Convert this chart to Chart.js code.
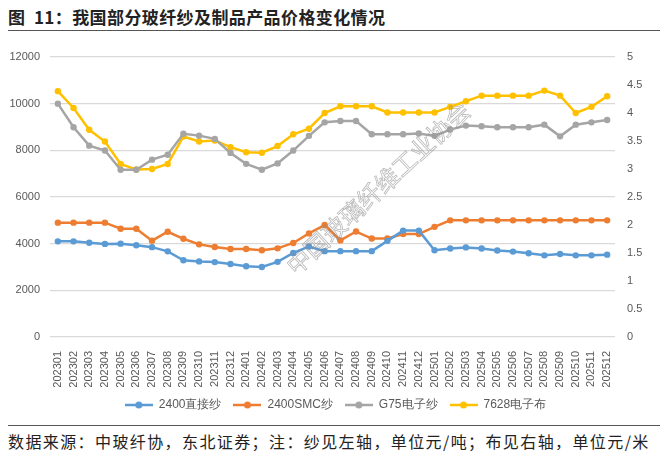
<!DOCTYPE html>
<html>
<head>
<meta charset="utf-8">
<script src="https://cdn.jsdelivr.net/npm/chart.js@4"></script>
<style>
  html, body { margin: 0; padding: 0; background: #fff; }
  body { width: 671px; height: 455px; position: relative; overflow: hidden; }
  #title {
    position: absolute; left: 8px; top: 4px; letter-spacing: 0.4px; white-space: nowrap;
    font: bold 17px "Noto Sans CJK SC", sans-serif; color: #222;
  }
  #rule1 { position: absolute; left: 8px; top: 30px; width: 652px; height: 0; border-top: 1.5px solid #555; }
  #rule2 { position: absolute; left: 8px; top: 425px; width: 652px; height: 0; border-top: 1.5px solid #555; }
  #source {
    position: absolute; left: 8px; top: 429px; letter-spacing: 1.4px;
    font: 16px "Noto Sans CJK SC", sans-serif; color: #222; white-space: nowrap;
  }
  #wrap { position: absolute; left: 0; top: 0; width: 671px; height: 425px; }
</style>
</head>
<body>
<div id="title">图&nbsp;&nbsp;11：我国部分玻纤纱及制品产品价格变化情况</div>
<div id="rule1"></div>
<div id="wrap"><canvas id="price-chart"></canvas></div>
<div id="rule2"></div>
<div id="source">数据来源：中玻纤协，东北证券；注：纱见左轴，单位元/吨；布见右轴，单位元/米</div>
<script>
'use strict';

const months = [
    '202301', '202302', '202303', '202304', '202305', '202306', '202307', '202308', '202309', '202310', '202311', '202312',
    '202401', '202402', '202403', '202404', '202405', '202406', '202407', '202408', '202409', '202410', '202411', '202412',
    '202501', '202502', '202503', '202504', '202505', '202506', '202507', '202508', '202509', '202510', '202511', '202512'
];
// yarn prices, yuan/ton (left axis)
const direct2400 = [4100, 4100, 4040, 3990, 4000, 3930, 3850, 3670, 3290, 3240, 3210, 3130,
    3030, 3000, 3220, 3600, 3880, 3680, 3680, 3680, 3680, 4120, 4560, 4560,
    3720, 3790, 3840, 3790, 3710, 3660, 3590, 3500, 3560, 3500, 3500, 3530];
const smc2400 = [4900, 4900, 4900, 4900, 4640, 4640, 4130, 4510, 4210, 3970, 3860, 3770,
    3770, 3720, 3800, 4030, 4440, 4800, 4140, 4520, 4220, 4220, 4410, 4410,
    4720, 5000, 5000, 5000, 5000, 5000, 5000, 5000, 5000, 5000, 5000, 5000];
const g75 = [10000, 8990, 8200, 7990, 7170, 7170, 7600, 7810, 8710, 8630, 8490, 7890,
    7420, 7170, 7440, 7990, 8620, 9200, 9260, 9260, 8690, 8690, 8690, 8720,
    8620, 8890, 9060, 9030, 8990, 8990, 8990, 9100, 8600, 9100, 9200, 9300];
// cloth price, yuan/meter (right axis)
const cloth7628 = [4.39, 4.09, 3.70, 3.49, 3.09, 2.99, 3.00, 3.09, 3.58, 3.49, 3.51, 3.39,
    3.30, 3.29, 3.41, 3.62, 3.72, 4.00, 4.12, 4.12, 4.12, 4.01, 4.01, 4.01,
    4.01, 4.11, 4.21, 4.31, 4.31, 4.31, 4.31, 4.40, 4.31, 4.00, 4.11, 4.30];
const leftTicks = [0, 2000, 4000, 6000, 8000, 10000, 12000];
const rightTicks = [0, 0.5, 1, 1.5, 2, 2.5, 3, 3.5, 4, 4.5, 5];

const seriesNames = ['2400直接纱', '2400SMC纱', 'G75电子纱', '7628电子布'];
const seriesColors = ['#5B9BD5', '#ED7D31', '#A5A5A5', '#FFC000'];

const tickColor = '#595959';
const tickFont = {family: '"Liberation Sans", sans-serif', size: 11};

function legendMarker(color) {
    const c = document.createElement('canvas');
    c.width = 28;
    c.height = 10;
    const g = c.getContext('2d');
    g.strokeStyle = color;
    g.lineWidth = 2.5;
    g.beginPath();
    g.moveTo(0, 5);
    g.lineTo(28, 5);
    g.stroke();
    g.fillStyle = color;
    g.beginPath();
    g.arc(14, 5, 3.5, 0, Math.PI * 2);
    g.fill();
    return c;
}

function makeSet(i, data, axis) {
    return {
        label: seriesNames[i],
        data: data,
        yAxisID: axis,
        borderColor: seriesColors[i],
        backgroundColor: seriesColors[i],
        borderWidth: 2.5,
        pointRadius: 3.2,
        pointHoverRadius: 3.2,
        pointBorderWidth: 0,
        tension: 0
    };
}

const watermark = {
    id: 'watermark',
    afterDatasetsDraw: (chart) => {
        const g = chart.ctx;
        g.save();
        g.translate(378, 188);
        g.rotate(-Math.PI / 4.2);
        g.font = '24px "Noto Sans CJK SC", sans-serif';
        g.textAlign = 'center';
        g.textBaseline = 'middle';
        g.strokeStyle = 'rgba(140,140,140,0.6)';
        g.lineWidth = 0.8;
        g.strokeText('中国玻璃纤维工业协会', 0, 0);
        g.restore();
    }
};

const ctx = document.getElementById('price-chart');
new Chart(ctx, {
    type: 'line',
    data: {
        labels: months,
        datasets: [
            makeSet(0, direct2400, 'y'),
            makeSet(1, smc2400, 'y'),
            makeSet(2, g75, 'y'),
            makeSet(3, cloth7628, 'y1')
        ]
    },
    options: {
        responsive: true,
        maintainAspectRatio: false,
        animation: false,
        layout: {padding: {top: 57, bottom: 4}},
        plugins: {
            tooltip: {enabled: false},
            legend: {
                position: 'bottom',
                labels: {
                    color: tickColor,
                    font: {family: '"Liberation Sans", sans-serif', size: 12},
                    usePointStyle: true,
                    pointStyleWidth: 28,
                    boxHeight: 10,
                    padding: 12,
                    generateLabels: (chart) => chart.data.datasets.map((ds, i) => ({
                        text: ds.label,
                        fontColor: tickColor,
                        pointStyle: legendMarker(seriesColors[i]),
                        datasetIndex: i,
                        lineWidth: 0
                    }))
                }
            }
        },
        scales: {
            x: {
                offset: true,
                grid: {display: false},
                border: {display: false},
                ticks: {
                    color: tickColor,
                    font: tickFont,
                    minRotation: 90,
                    maxRotation: 90,
                    autoSkip: false,
                    padding: 6
                },
                afterFit: (s) => { s.height = 50; }
            },
            y: {
                position: 'left',
                min: 0,
                max: 12000,
                afterBuildTicks: (s) => { s.ticks = leftTicks.map(v => ({value: v})); },
                grid: {color: '#D9D9D9', lineWidth: 1.2, drawTicks: false},
                border: {display: false},
                ticks: {color: tickColor, font: tickFont, padding: 10, callback: (v) => String(v)},
                afterFit: (s) => { s.width = 50; }
            },
            y1: {
                position: 'right',
                min: 0,
                max: 5,
                afterBuildTicks: (s) => { s.ticks = rightTicks.map(v => ({value: v})); },
                grid: {display: false, drawTicks: false},
                border: {display: false},
                ticks: {color: tickColor, font: tickFont, padding: 12, callback: (v) => String(v)},
                afterFit: (s) => { s.width = 56; }
            }
        }
    },
    plugins: [watermark]
});
</script>
</body>
</html>
